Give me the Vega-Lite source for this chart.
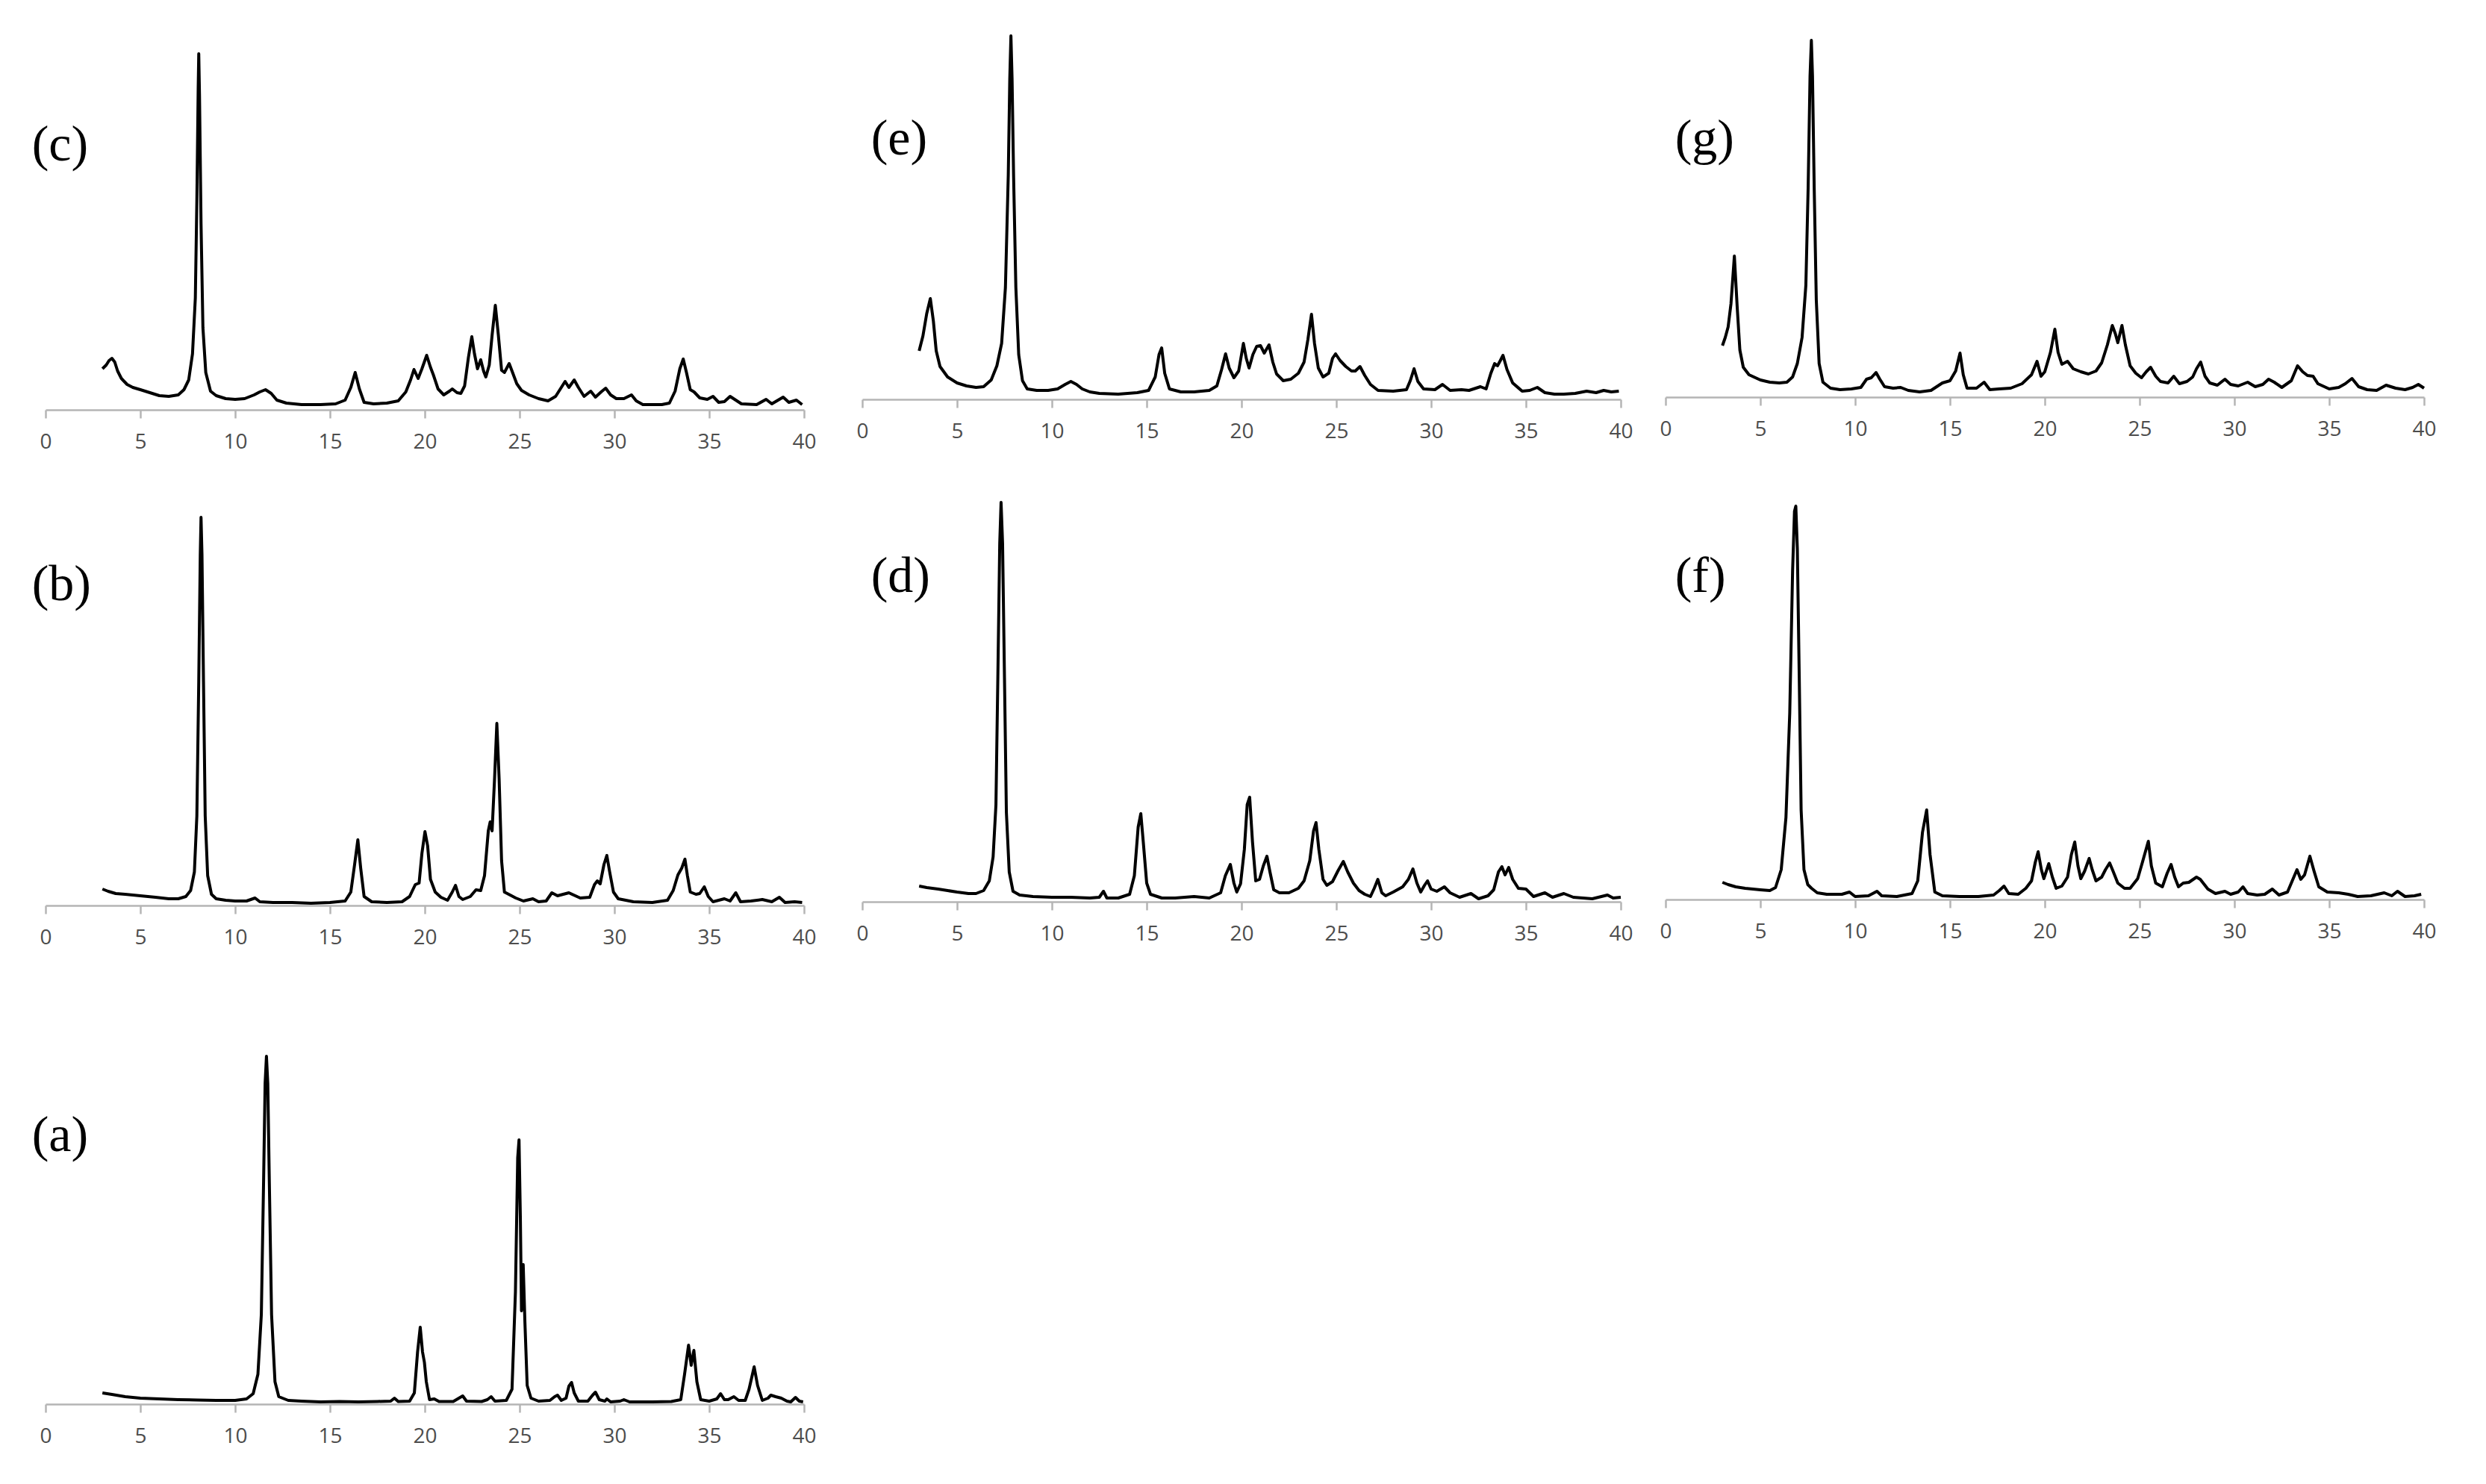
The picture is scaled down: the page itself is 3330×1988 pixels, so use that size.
{
  "$schema": "https://vega.github.io/schema/vega-lite/v6.json",
  "background": "white",
  "padding": {"left": 42, "top": 30, "right": 20, "bottom": 20},
  "columns": 3,
  "spacing": {"row": 90, "column": 60},
  "bounds": "flush",
  "align": "each",
  "datasets": {
    "c": [{"t":3.0,"i":55},{"t":3.2,"i":60},{"t":3.35,"i":66},{"t":3.5,"i":69},{"t":3.65,"i":64},{"t":3.8,"i":52},{"t":4.0,"i":42},{"t":4.3,"i":34},{"t":4.6,"i":30},{"t":5.0,"i":27},{"t":5.5,"i":23},{"t":6.0,"i":19},{"t":6.5,"i":18},{"t":7.0,"i":20},{"t":7.3,"i":27},{"t":7.55,"i":40},{"t":7.75,"i":75},{"t":7.9,"i":150},{"t":7.98,"i":280},{"t":8.05,"i":430},{"t":8.08,"i":477},{"t":8.12,"i":420},{"t":8.2,"i":250},{"t":8.3,"i":110},{"t":8.45,"i":50},{"t":8.7,"i":25},{"t":9.0,"i":19},{"t":9.5,"i":15},{"t":10.0,"i":14},{"t":10.5,"i":15},{"t":11.0,"i":20},{"t":11.3,"i":24},{"t":11.6,"i":27},{"t":11.9,"i":22},{"t":12.2,"i":13},{"t":12.7,"i":9},{"t":13.5,"i":7},{"t":14.5,"i":7},{"t":15.3,"i":8},{"t":15.8,"i":13},{"t":16.1,"i":30},{"t":16.33,"i":50},{"t":16.55,"i":28},{"t":16.8,"i":10},{"t":17.3,"i":8},{"t":18.0,"i":9},{"t":18.6,"i":12},{"t":19.0,"i":24},{"t":19.25,"i":40},{"t":19.43,"i":54},{"t":19.65,"i":42},{"t":19.85,"i":55},{"t":20.1,"i":73},{"t":20.3,"i":57},{"t":20.45,"i":47},{"t":20.7,"i":28},{"t":21.0,"i":20},{"t":21.3,"i":25},{"t":21.45,"i":28},{"t":21.7,"i":23},{"t":21.9,"i":22},{"t":22.1,"i":32},{"t":22.3,"i":70},{"t":22.48,"i":98},{"t":22.62,"i":75},{"t":22.78,"i":55},{"t":22.95,"i":67},{"t":23.1,"i":52},{"t":23.22,"i":44},{"t":23.4,"i":60},{"t":23.55,"i":100},{"t":23.72,"i":140},{"t":23.88,"i":100},{"t":24.05,"i":53},{"t":24.2,"i":50},{"t":24.45,"i":62},{"t":24.6,"i":52},{"t":24.85,"i":35},{"t":25.1,"i":26},{"t":25.5,"i":20},{"t":26.0,"i":15},{"t":26.5,"i":12},{"t":26.9,"i":18},{"t":27.15,"i":28},{"t":27.4,"i":38},{"t":27.6,"i":30},{"t":27.88,"i":40},{"t":28.1,"i":30},{"t":28.4,"i":18},{"t":28.75,"i":25},{"t":29.0,"i":17},{"t":29.3,"i":24},{"t":29.54,"i":29},{"t":29.8,"i":20},{"t":30.1,"i":15},{"t":30.5,"i":15},{"t":30.9,"i":20},{"t":31.15,"i":12},{"t":31.5,"i":7},{"t":32.5,"i":7},{"t":32.9,"i":9},{"t":33.2,"i":25},{"t":33.45,"i":55},{"t":33.63,"i":68},{"t":33.8,"i":50},{"t":34.0,"i":27},{"t":34.2,"i":24},{"t":34.5,"i":16},{"t":34.9,"i":14},{"t":35.2,"i":18},{"t":35.5,"i":10},{"t":35.8,"i":11},{"t":36.1,"i":18},{"t":36.4,"i":13},{"t":36.7,"i":8},{"t":37.5,"i":7},{"t":38.0,"i":14},{"t":38.3,"i":8},{"t":38.9,"i":17},{"t":39.2,"i":10},{"t":39.6,"i":13},{"t":39.9,"i":7}],
    "b": [{"t":3.0,"i":22},{"t":3.3,"i":19},{"t":3.7,"i":16},{"t":4.2,"i":15},{"t":5.0,"i":13},{"t":5.8,"i":11},{"t":6.5,"i":9},{"t":7.0,"i":9},{"t":7.4,"i":12},{"t":7.65,"i":20},{"t":7.85,"i":45},{"t":7.98,"i":120},{"t":8.08,"i":300},{"t":8.16,"i":470},{"t":8.2,"i":520},{"t":8.25,"i":470},{"t":8.33,"i":300},{"t":8.42,"i":120},{"t":8.55,"i":40},{"t":8.75,"i":15},{"t":9.0,"i":9},{"t":9.5,"i":7},{"t":10.0,"i":6},{"t":10.6,"i":6},{"t":11.05,"i":10},{"t":11.3,"i":5},{"t":12.0,"i":4},{"t":13.0,"i":4},{"t":14.0,"i":3},{"t":15.0,"i":4},{"t":15.8,"i":6},{"t":16.1,"i":18},{"t":16.3,"i":55},{"t":16.47,"i":88},{"t":16.62,"i":50},{"t":16.8,"i":12},{"t":17.2,"i":5},{"t":18.0,"i":4},{"t":18.8,"i":5},{"t":19.2,"i":12},{"t":19.5,"i":28},{"t":19.7,"i":30},{"t":19.85,"i":70},{"t":20.01,"i":99},{"t":20.15,"i":80},{"t":20.3,"i":35},{"t":20.55,"i":18},{"t":20.85,"i":11},{"t":21.2,"i":7},{"t":21.45,"i":18},{"t":21.62,"i":27},{"t":21.8,"i":12},{"t":22.0,"i":8},{"t":22.4,"i":12},{"t":22.7,"i":21},{"t":22.95,"i":20},{"t":23.15,"i":40},{"t":23.35,"i":100},{"t":23.45,"i":112},{"t":23.55,"i":100},{"t":23.68,"i":170},{"t":23.8,"i":244},{"t":23.92,"i":170},{"t":24.05,"i":60},{"t":24.2,"i":18},{"t":24.5,"i":14},{"t":24.8,"i":10},{"t":25.2,"i":6},{"t":25.7,"i":9},{"t":26.0,"i":5},{"t":26.4,"i":6},{"t":26.7,"i":17},{"t":27.0,"i":13},{"t":27.6,"i":17},{"t":28.2,"i":10},{"t":28.7,"i":11},{"t":28.95,"i":28},{"t":29.1,"i":33},{"t":29.25,"i":29},{"t":29.45,"i":55},{"t":29.6,"i":67},{"t":29.75,"i":45},{"t":29.95,"i":18},{"t":30.2,"i":9},{"t":31.0,"i":5},{"t":32.0,"i":4},{"t":32.8,"i":7},{"t":33.1,"i":20},{"t":33.35,"i":41},{"t":33.55,"i":50},{"t":33.72,"i":62},{"t":33.85,"i":40},{"t":34.0,"i":18},{"t":34.3,"i":15},{"t":34.5,"i":16},{"t":34.74,"i":25},{"t":34.95,"i":12},{"t":35.2,"i":5},{"t":35.8,"i":9},{"t":36.1,"i":6},{"t":36.4,"i":17},{"t":36.65,"i":5},{"t":37.2,"i":6},{"t":37.8,"i":8},{"t":38.3,"i":5},{"t":38.7,"i":11},{"t":39.0,"i":4},{"t":39.5,"i":5},{"t":39.9,"i":4}],
    "a": [{"t":3.0,"i":15},{"t":3.5,"i":13},{"t":4.2,"i":10},{"t":5.0,"i":8},{"t":6.0,"i":7},{"t":7.0,"i":6},{"t":8.0,"i":5.5},{"t":9.0,"i":5},{"t":10.0,"i":5},{"t":10.6,"i":7},{"t":10.95,"i":14},{"t":11.2,"i":40},{"t":11.38,"i":120},{"t":11.5,"i":300},{"t":11.58,"i":430},{"t":11.65,"i":466},{"t":11.72,"i":430},{"t":11.8,"i":300},{"t":11.92,"i":120},{"t":12.1,"i":30},{"t":12.3,"i":10},{"t":12.5,"i":8},{"t":12.8,"i":5},{"t":13.5,"i":4},{"t":14.5,"i":3},{"t":15.5,"i":3.5},{"t":16.5,"i":3},{"t":17.5,"i":3.5},{"t":18.2,"i":4},{"t":18.4,"i":8},{"t":18.6,"i":3.5},{"t":19.2,"i":4},{"t":19.45,"i":15},{"t":19.62,"i":70},{"t":19.76,"i":103},{"t":19.88,"i":70},{"t":19.98,"i":56},{"t":20.08,"i":30},{"t":20.25,"i":6},{"t":20.5,"i":7},{"t":20.75,"i":3.5},{"t":21.5,"i":3.5},{"t":21.8,"i":8},{"t":22.0,"i":11},{"t":22.2,"i":4},{"t":23.0,"i":3.5},{"t":23.3,"i":6},{"t":23.5,"i":10},{"t":23.7,"i":4},{"t":24.3,"i":5},{"t":24.6,"i":20},{"t":24.78,"i":150},{"t":24.9,"i":330},{"t":24.97,"i":354},{"t":25.04,"i":250},{"t":25.1,"i":125},{"t":25.19,"i":187},{"t":25.28,"i":110},{"t":25.4,"i":25},{"t":25.6,"i":8},{"t":26.0,"i":4},{"t":26.6,"i":5},{"t":26.85,"i":10},{"t":27.0,"i":12},{"t":27.2,"i":5},{"t":27.45,"i":8},{"t":27.6,"i":24},{"t":27.74,"i":29},{"t":27.88,"i":15},{"t":28.1,"i":4},{"t":28.6,"i":4},{"t":28.85,"i":12},{"t":29.0,"i":16},{"t":29.2,"i":6},{"t":29.5,"i":4},{"t":29.6,"i":7},{"t":29.8,"i":3},{"t":30.3,"i":4},{"t":30.5,"i":6},{"t":30.8,"i":3},{"t":32.0,"i":3},{"t":33.0,"i":3.5},{"t":33.5,"i":6},{"t":33.7,"i":40},{"t":33.91,"i":79},{"t":34.05,"i":52},{"t":34.19,"i":72},{"t":34.35,"i":30},{"t":34.55,"i":6},{"t":35.0,"i":4},{"t":35.4,"i":7},{"t":35.6,"i":14},{"t":35.8,"i":6},{"t":36.0,"i":6},{"t":36.3,"i":10},{"t":36.55,"i":5},{"t":36.9,"i":5},{"t":37.1,"i":20},{"t":37.37,"i":50},{"t":37.55,"i":25},{"t":37.8,"i":5},{"t":38.1,"i":8},{"t":38.25,"i":12},{"t":38.5,"i":10},{"t":38.8,"i":8},{"t":39.1,"i":4},{"t":39.3,"i":3},{"t":39.55,"i":9},{"t":39.75,"i":4},{"t":39.95,"i":3}],
    "e": [{"t":3.0,"i":65},{"t":3.2,"i":85},{"t":3.4,"i":115},{"t":3.59,"i":135},{"t":3.75,"i":105},{"t":3.9,"i":65},{"t":4.1,"i":44},{"t":4.5,"i":30},{"t":5.0,"i":22},{"t":5.5,"i":18},{"t":6.0,"i":16},{"t":6.4,"i":17},{"t":6.8,"i":26},{"t":7.1,"i":45},{"t":7.35,"i":75},{"t":7.55,"i":150},{"t":7.7,"i":300},{"t":7.78,"i":430},{"t":7.84,"i":487},{"t":7.9,"i":430},{"t":7.98,"i":300},{"t":8.1,"i":150},{"t":8.25,"i":60},{"t":8.45,"i":25},{"t":8.7,"i":14},{"t":9.2,"i":12},{"t":9.8,"i":12},{"t":10.3,"i":14},{"t":10.7,"i":20},{"t":11.0,"i":24},{"t":11.3,"i":20},{"t":11.6,"i":14},{"t":12.0,"i":10},{"t":12.5,"i":8},{"t":13.5,"i":7},{"t":14.5,"i":9},{"t":15.1,"i":12},{"t":15.45,"i":30},{"t":15.65,"i":60},{"t":15.79,"i":69},{"t":15.95,"i":35},{"t":16.2,"i":14},{"t":16.8,"i":10},{"t":17.5,"i":10},{"t":18.3,"i":12},{"t":18.7,"i":18},{"t":18.95,"i":40},{"t":19.16,"i":61},{"t":19.35,"i":42},{"t":19.6,"i":29},{"t":19.85,"i":38},{"t":20.0,"i":60},{"t":20.1,"i":75},{"t":20.25,"i":55},{"t":20.4,"i":42},{"t":20.6,"i":60},{"t":20.8,"i":71},{"t":21.0,"i":72},{"t":21.2,"i":62},{"t":21.45,"i":73},{"t":21.65,"i":50},{"t":21.85,"i":34},{"t":22.2,"i":25},{"t":22.6,"i":27},{"t":23.0,"i":35},{"t":23.3,"i":50},{"t":23.5,"i":80},{"t":23.69,"i":114},{"t":23.85,"i":75},{"t":24.05,"i":42},{"t":24.3,"i":30},{"t":24.6,"i":35},{"t":24.8,"i":55},{"t":24.96,"i":61},{"t":25.2,"i":52},{"t":25.5,"i":44},{"t":25.8,"i":38},{"t":26.0,"i":38},{"t":26.25,"i":44},{"t":26.5,"i":32},{"t":26.8,"i":20},{"t":27.2,"i":12},{"t":28.0,"i":11},{"t":28.7,"i":13},{"t":28.9,"i":25},{"t":29.1,"i":41},{"t":29.3,"i":24},{"t":29.6,"i":14},{"t":30.2,"i":13},{"t":30.6,"i":20},{"t":31.0,"i":12},{"t":31.6,"i":13},{"t":32.0,"i":12},{"t":32.6,"i":17},{"t":32.9,"i":14},{"t":33.15,"i":35},{"t":33.35,"i":48},{"t":33.5,"i":45},{"t":33.65,"i":52},{"t":33.79,"i":59},{"t":34.0,"i":40},{"t":34.3,"i":22},{"t":34.8,"i":11},{"t":35.2,"i":12},{"t":35.6,"i":16},{"t":36.0,"i":9},{"t":36.5,"i":7},{"t":37.0,"i":7},{"t":37.6,"i":8},{"t":38.2,"i":11},{"t":38.7,"i":9},{"t":39.1,"i":12},{"t":39.5,"i":10},{"t":39.9,"i":11}],
    "g": [{"t":3.0,"i":69},{"t":3.15,"i":80},{"t":3.3,"i":94},{"t":3.45,"i":125},{"t":3.63,"i":189},{"t":3.78,"i":120},{"t":3.92,"i":63},{"t":4.1,"i":40},{"t":4.4,"i":30},{"t":5.0,"i":23},{"t":5.5,"i":20},{"t":6.0,"i":19},{"t":6.4,"i":20},{"t":6.7,"i":27},{"t":6.95,"i":45},{"t":7.2,"i":80},{"t":7.4,"i":150},{"t":7.52,"i":280},{"t":7.62,"i":430},{"t":7.69,"i":478},{"t":7.75,"i":430},{"t":7.84,"i":280},{"t":7.95,"i":130},{"t":8.1,"i":45},{"t":8.3,"i":20},{"t":8.7,"i":12},{"t":9.2,"i":10},{"t":9.8,"i":11},{"t":10.3,"i":13},{"t":10.6,"i":24},{"t":10.85,"i":26},{"t":11.1,"i":33},{"t":11.3,"i":24},{"t":11.55,"i":14},{"t":12.0,"i":12},{"t":12.4,"i":13},{"t":12.8,"i":9},{"t":13.4,"i":7},{"t":14.0,"i":9},{"t":14.6,"i":19},{"t":15.0,"i":22},{"t":15.3,"i":35},{"t":15.53,"i":59},{"t":15.7,"i":30},{"t":15.9,"i":12},{"t":16.4,"i":12},{"t":16.8,"i":20},{"t":17.1,"i":10},{"t":17.6,"i":11},{"t":18.2,"i":12},{"t":18.8,"i":18},{"t":19.3,"i":30},{"t":19.59,"i":48},{"t":19.8,"i":28},{"t":20.0,"i":34},{"t":20.3,"i":60},{"t":20.53,"i":91},{"t":20.7,"i":60},{"t":20.9,"i":44},{"t":21.2,"i":48},{"t":21.5,"i":38},{"t":21.9,"i":34},{"t":22.3,"i":31},{"t":22.7,"i":35},{"t":23.0,"i":46},{"t":23.3,"i":70},{"t":23.56,"i":96},{"t":23.72,"i":85},{"t":23.85,"i":73},{"t":24.07,"i":96},{"t":24.25,"i":70},{"t":24.5,"i":42},{"t":24.8,"i":32},{"t":25.1,"i":26},{"t":25.35,"i":34},{"t":25.58,"i":40},{"t":25.85,"i":28},{"t":26.1,"i":21},{"t":26.5,"i":19},{"t":26.8,"i":28},{"t":27.1,"i":18},{"t":27.5,"i":21},{"t":27.8,"i":27},{"t":28.0,"i":38},{"t":28.22,"i":47},{"t":28.45,"i":28},{"t":28.7,"i":19},{"t":29.1,"i":16},{"t":29.5,"i":24},{"t":29.8,"i":17},{"t":30.2,"i":15},{"t":30.7,"i":20},{"t":31.1,"i":14},{"t":31.5,"i":17},{"t":31.8,"i":24},{"t":32.1,"i":20},{"t":32.5,"i":13},{"t":33.0,"i":22},{"t":33.33,"i":42},{"t":33.6,"i":34},{"t":33.85,"i":29},{"t":34.15,"i":28},{"t":34.4,"i":18},{"t":35.0,"i":11},{"t":35.5,"i":13},{"t":35.85,"i":18},{"t":36.2,"i":25},{"t":36.55,"i":14},{"t":37.0,"i":10},{"t":37.5,"i":9},{"t":38.0,"i":16},{"t":38.5,"i":12},{"t":39.0,"i":10},{"t":39.4,"i":13},{"t":39.7,"i":17},{"t":40.0,"i":12}],
    "d": [{"t":3.0,"i":21},{"t":3.4,"i":19},{"t":4.0,"i":17},{"t":4.5,"i":15},{"t":5.0,"i":13},{"t":5.6,"i":11},{"t":6.0,"i":11},{"t":6.4,"i":15},{"t":6.7,"i":28},{"t":6.9,"i":60},{"t":7.05,"i":130},{"t":7.15,"i":300},{"t":7.25,"i":480},{"t":7.32,"i":535},{"t":7.4,"i":480},{"t":7.5,"i":300},{"t":7.6,"i":120},{"t":7.75,"i":40},{"t":7.95,"i":14},{"t":8.3,"i":9},{"t":9.0,"i":7},{"t":10.0,"i":6},{"t":11.0,"i":6},{"t":12.0,"i":5},{"t":12.5,"i":6},{"t":12.72,"i":14},{"t":12.9,"i":5},{"t":13.5,"i":5},{"t":14.1,"i":10},{"t":14.35,"i":35},{"t":14.55,"i":100},{"t":14.69,"i":118},{"t":14.82,"i":80},{"t":15.0,"i":25},{"t":15.2,"i":10},{"t":15.8,"i":5},{"t":16.5,"i":5},{"t":17.5,"i":7},{"t":18.3,"i":5},{"t":18.9,"i":12},{"t":19.15,"i":35},{"t":19.41,"i":50},{"t":19.6,"i":25},{"t":19.75,"i":13},{"t":19.95,"i":24},{"t":20.15,"i":70},{"t":20.3,"i":130},{"t":20.43,"i":140},{"t":20.58,"i":80},{"t":20.75,"i":28},{"t":20.95,"i":30},{"t":21.15,"i":48},{"t":21.34,"i":61},{"t":21.5,"i":40},{"t":21.7,"i":16},{"t":22.0,"i":12},{"t":22.5,"i":12},{"t":23.0,"i":18},{"t":23.3,"i":28},{"t":23.6,"i":55},{"t":23.8,"i":95},{"t":23.93,"i":106},{"t":24.08,"i":70},{"t":24.3,"i":30},{"t":24.5,"i":22},{"t":24.8,"i":27},{"t":25.1,"i":42},{"t":25.37,"i":54},{"t":25.6,"i":40},{"t":25.9,"i":25},{"t":26.2,"i":15},{"t":26.5,"i":10},{"t":26.8,"i":7},{"t":27.0,"i":18},{"t":27.19,"i":30},{"t":27.4,"i":12},{"t":27.6,"i":8},{"t":28.0,"i":13},{"t":28.5,"i":20},{"t":28.8,"i":30},{"t":29.04,"i":44},{"t":29.25,"i":25},{"t":29.45,"i":13},{"t":29.65,"i":22},{"t":29.81,"i":28},{"t":30.0,"i":17},{"t":30.3,"i":14},{"t":30.7,"i":20},{"t":31.0,"i":12},{"t":31.5,"i":6},{"t":32.1,"i":11},{"t":32.5,"i":4},{"t":33.0,"i":8},{"t":33.3,"i":16},{"t":33.55,"i":40},{"t":33.73,"i":47},{"t":33.9,"i":36},{"t":34.09,"i":46},{"t":34.3,"i":30},{"t":34.6,"i":18},{"t":35.0,"i":17},{"t":35.4,"i":7},{"t":36.0,"i":12},{"t":36.4,"i":6},{"t":37.0,"i":11},{"t":37.5,"i":6},{"t":38.5,"i":4},{"t":39.3,"i":9},{"t":39.6,"i":5},{"t":40.0,"i":6}],
    "f": [{"t":3.0,"i":23},{"t":3.3,"i":20},{"t":3.7,"i":17},{"t":4.2,"i":15},{"t":5.0,"i":13},{"t":5.5,"i":12},{"t":5.8,"i":16},{"t":6.1,"i":40},{"t":6.35,"i":110},{"t":6.55,"i":250},{"t":6.7,"i":440},{"t":6.8,"i":520},{"t":6.87,"i":527},{"t":6.95,"i":470},{"t":7.05,"i":300},{"t":7.15,"i":120},{"t":7.3,"i":40},{"t":7.5,"i":20},{"t":7.7,"i":15},{"t":8.0,"i":9},{"t":8.5,"i":7},{"t":9.3,"i":7},{"t":9.7,"i":10},{"t":10.0,"i":4},{"t":10.7,"i":5},{"t":11.15,"i":11},{"t":11.4,"i":5},{"t":12.2,"i":4},{"t":12.6,"i":6},{"t":13.0,"i":8},{"t":13.3,"i":25},{"t":13.55,"i":90},{"t":13.77,"i":120},{"t":13.95,"i":60},{"t":14.2,"i":10},{"t":14.6,"i":5},{"t":15.5,"i":4},{"t":16.5,"i":4},{"t":17.3,"i":6},{"t":17.6,"i":12},{"t":17.85,"i":18},{"t":18.1,"i":8},{"t":18.6,"i":7},{"t":19.0,"i":15},{"t":19.3,"i":25},{"t":19.5,"i":50},{"t":19.65,"i":64},{"t":19.82,"i":40},{"t":19.95,"i":28},{"t":20.21,"i":48},{"t":20.4,"i":30},{"t":20.6,"i":15},{"t":20.9,"i":18},{"t":21.2,"i":30},{"t":21.4,"i":60},{"t":21.58,"i":77},{"t":21.75,"i":45},{"t":21.9,"i":28},{"t":22.1,"i":38},{"t":22.34,"i":55},{"t":22.5,"i":40},{"t":22.7,"i":25},{"t":23.0,"i":30},{"t":23.2,"i":40},{"t":23.42,"i":49},{"t":23.6,"i":38},{"t":23.85,"i":22},{"t":24.2,"i":15},{"t":24.5,"i":15},{"t":24.9,"i":28},{"t":25.15,"i":50},{"t":25.46,"i":78},{"t":25.62,"i":45},{"t":25.85,"i":22},{"t":26.2,"i":17},{"t":26.45,"i":35},{"t":26.66,"i":47},{"t":26.85,"i":30},{"t":27.05,"i":17},{"t":27.3,"i":22},{"t":27.6,"i":23},{"t":28.0,"i":30},{"t":28.2,"i":27},{"t":28.6,"i":14},{"t":29.0,"i":8},{"t":29.5,"i":11},{"t":29.8,"i":7},{"t":30.2,"i":10},{"t":30.45,"i":17},{"t":30.7,"i":8},{"t":31.2,"i":6},{"t":31.6,"i":7},{"t":32.0,"i":14},{"t":32.35,"i":6},{"t":32.8,"i":10},{"t":33.05,"i":25},{"t":33.3,"i":40},{"t":33.5,"i":27},{"t":33.7,"i":33},{"t":33.98,"i":58},{"t":34.2,"i":38},{"t":34.45,"i":17},{"t":34.9,"i":10},{"t":35.5,"i":9},{"t":36.0,"i":7},{"t":36.5,"i":4},{"t":37.2,"i":5},{"t":37.9,"i":9},{"t":38.3,"i":5},{"t":38.6,"i":11},{"t":39.0,"i":4},{"t":39.5,"i":5},{"t":39.85,"i":7}]
  },
  "concat": [
    {"width": 1016, "height": 519, "layer": [
      {"data": {"name": "c"}, "mark": {"type": "line", "color": "black", "strokeWidth": 4, "strokeJoin": "round"},
       "encoding": {"x": {"field": "t", "type": "quantitative", "scale": {"domain": [0, 40], "nice": false, "zero": false},
                          "axis": {"values": [0, 5, 10, 15, 20, 25, 30, 35, 40], "title": null, "grid": false, "domainColor": "#b5b5b5", "domainWidth": 2.5, "tickColor": "#b5b5b5", "tickWidth": 2.5, "tickSize": 11, "labelFont": "Open Sans", "labelFontSize": 28, "labelColor": "#4d4d4d", "labelPadding": 18, "labelFlush": false, "labelOverlap": false, "format": "d"}},
                    "y": {"field": "i", "type": "quantitative", "scale": {"domain": [0, 519], "nice": false}, "axis": null}}},
      {"data": {"values": [{"label": "(c)"}]}, "mark": {"type": "text", "font": "Liberation Serif", "fontSize": 68, "align": "left", "baseline": "alphabetic", "color": "black"},
       "encoding": {"text": {"field": "label"}, "x": {"datum": -0.72}, "y": {"datum": 334}}}]},
    {"width": 1034, "height": 505, "layer": [
      {"data": {"name": "e"}, "mark": {"type": "line", "color": "black", "strokeWidth": 4, "strokeJoin": "round"},
       "encoding": {"x": {"field": "t", "type": "quantitative", "scale": {"domain": [0, 40], "nice": false, "zero": false, "range": [18, 1034]},
                          "axis": {"values": [0, 5, 10, 15, 20, 25, 30, 35, 40], "title": null, "grid": false, "domainColor": "#b5b5b5", "domainWidth": 2.5, "tickColor": "#b5b5b5", "tickWidth": 2.5, "tickSize": 11, "labelFont": "Open Sans", "labelFontSize": 28, "labelColor": "#4d4d4d", "labelPadding": 18, "labelFlush": false, "labelOverlap": false, "format": "d"}},
                    "y": {"field": "i", "type": "quantitative", "scale": {"domain": [0, 505], "nice": false}, "axis": null}}},
      {"data": {"values": [{"label": "(e)"}]}, "mark": {"type": "text", "font": "Liberation Serif", "fontSize": 68, "align": "left", "baseline": "alphabetic", "color": "black"},
       "encoding": {"text": {"field": "label"}, "x": {"datum": 0.46}, "y": {"datum": 328}}}]},
    {"width": 1016, "height": 502, "layer": [
      {"data": {"name": "g"}, "mark": {"type": "line", "color": "black", "strokeWidth": 4, "strokeJoin": "round"},
       "encoding": {"x": {"field": "t", "type": "quantitative", "scale": {"domain": [0, 40], "nice": false, "zero": false},
                          "axis": {"values": [0, 5, 10, 15, 20, 25, 30, 35, 40], "title": null, "grid": false, "domainColor": "#b5b5b5", "domainWidth": 2.5, "tickColor": "#b5b5b5", "tickWidth": 2.5, "tickSize": 11, "labelFont": "Open Sans", "labelFontSize": 28, "labelColor": "#4d4d4d", "labelPadding": 18, "labelFlush": false, "labelOverlap": false, "format": "d"}},
                    "y": {"field": "i", "type": "quantitative", "scale": {"domain": [0, 502], "nice": false}, "axis": null}}},
      {"data": {"values": [{"label": "(g)"}]}, "mark": {"type": "text", "font": "Liberation Serif", "fontSize": 68, "align": "left", "baseline": "alphabetic", "color": "black"},
       "encoding": {"text": {"field": "label"}, "x": {"datum": 0.5}, "y": {"datum": 325}}}]},
    {"width": 1016, "height": 574, "layer": [
      {"data": {"name": "b"}, "mark": {"type": "line", "color": "black", "strokeWidth": 4, "strokeJoin": "round"},
       "encoding": {"x": {"field": "t", "type": "quantitative", "scale": {"domain": [0, 40], "nice": false, "zero": false},
                          "axis": {"values": [0, 5, 10, 15, 20, 25, 30, 35, 40], "title": null, "grid": false, "domainColor": "#b5b5b5", "domainWidth": 2.5, "tickColor": "#b5b5b5", "tickWidth": 2.5, "tickSize": 11, "labelFont": "Open Sans", "labelFontSize": 28, "labelColor": "#4d4d4d", "labelPadding": 18, "labelFlush": false, "labelOverlap": false, "format": "d"}},
                    "y": {"field": "i", "type": "quantitative", "scale": {"domain": [0, 574], "nice": false}, "axis": null}}},
      {"data": {"values": [{"label": "(b)"}]}, "mark": {"type": "text", "font": "Liberation Serif", "fontSize": 68, "align": "left", "baseline": "alphabetic", "color": "black"},
       "encoding": {"text": {"field": "label"}, "x": {"datum": -0.72}, "y": {"datum": 409}}}]},
    {"width": 1034, "height": 569, "layer": [
      {"data": {"name": "d"}, "mark": {"type": "line", "color": "black", "strokeWidth": 4, "strokeJoin": "round"},
       "encoding": {"x": {"field": "t", "type": "quantitative", "scale": {"domain": [0, 40], "nice": false, "zero": false, "range": [18, 1034]},
                          "axis": {"values": [0, 5, 10, 15, 20, 25, 30, 35, 40], "title": null, "grid": false, "domainColor": "#b5b5b5", "domainWidth": 2.5, "tickColor": "#b5b5b5", "tickWidth": 2.5, "tickSize": 11, "labelFont": "Open Sans", "labelFontSize": 28, "labelColor": "#4d4d4d", "labelPadding": 18, "labelFlush": false, "labelOverlap": false, "format": "d"}},
                    "y": {"field": "i", "type": "quantitative", "scale": {"domain": [0, 569], "nice": false}, "axis": null}}},
      {"data": {"values": [{"label": "(d)"}]}, "mark": {"type": "text", "font": "Liberation Serif", "fontSize": 68, "align": "left", "baseline": "alphabetic", "color": "black"},
       "encoding": {"text": {"field": "label"}, "x": {"datum": 0.46}, "y": {"datum": 415}}}]},
    {"width": 1016, "height": 566, "layer": [
      {"data": {"name": "f"}, "mark": {"type": "line", "color": "black", "strokeWidth": 4, "strokeJoin": "round"},
       "encoding": {"x": {"field": "t", "type": "quantitative", "scale": {"domain": [0, 40], "nice": false, "zero": false},
                          "axis": {"values": [0, 5, 10, 15, 20, 25, 30, 35, 40], "title": null, "grid": false, "domainColor": "#b5b5b5", "domainWidth": 2.5, "tickColor": "#b5b5b5", "tickWidth": 2.5, "tickSize": 11, "labelFont": "Open Sans", "labelFontSize": 28, "labelColor": "#4d4d4d", "labelPadding": 18, "labelFlush": false, "labelOverlap": false, "format": "d"}},
                    "y": {"field": "i", "type": "quantitative", "scale": {"domain": [0, 566], "nice": false}, "axis": null}}},
      {"data": {"values": [{"label": "(f)"}]}, "mark": {"type": "text", "font": "Liberation Serif", "fontSize": 68, "align": "left", "baseline": "alphabetic", "color": "black"},
       "encoding": {"text": {"field": "label"}, "x": {"datum": 0.5}, "y": {"datum": 412}}}]},
    {"width": 1016, "height": 578, "layer": [
      {"data": {"name": "a"}, "mark": {"type": "line", "color": "black", "strokeWidth": 4, "strokeJoin": "round"},
       "encoding": {"x": {"field": "t", "type": "quantitative", "scale": {"domain": [0, 40], "nice": false, "zero": false},
                          "axis": {"values": [0, 5, 10, 15, 20, 25, 30, 35, 40], "title": null, "grid": false, "domainColor": "#b5b5b5", "domainWidth": 2.5, "tickColor": "#b5b5b5", "tickWidth": 2.5, "tickSize": 11, "labelFont": "Open Sans", "labelFontSize": 28, "labelColor": "#4d4d4d", "labelPadding": 18, "labelFlush": false, "labelOverlap": false, "format": "d"}},
                    "y": {"field": "i", "type": "quantitative", "scale": {"domain": [0, 578], "nice": false}, "axis": null}}},
      {"data": {"values": [{"label": "(a)"}]}, "mark": {"type": "text", "font": "Liberation Serif", "fontSize": 68, "align": "left", "baseline": "alphabetic", "color": "black"},
       "encoding": {"text": {"field": "label"}, "x": {"datum": -0.72}, "y": {"datum": 339}}}]}
  ],
  "config": {
    "view": {"stroke": null}
  }
}
